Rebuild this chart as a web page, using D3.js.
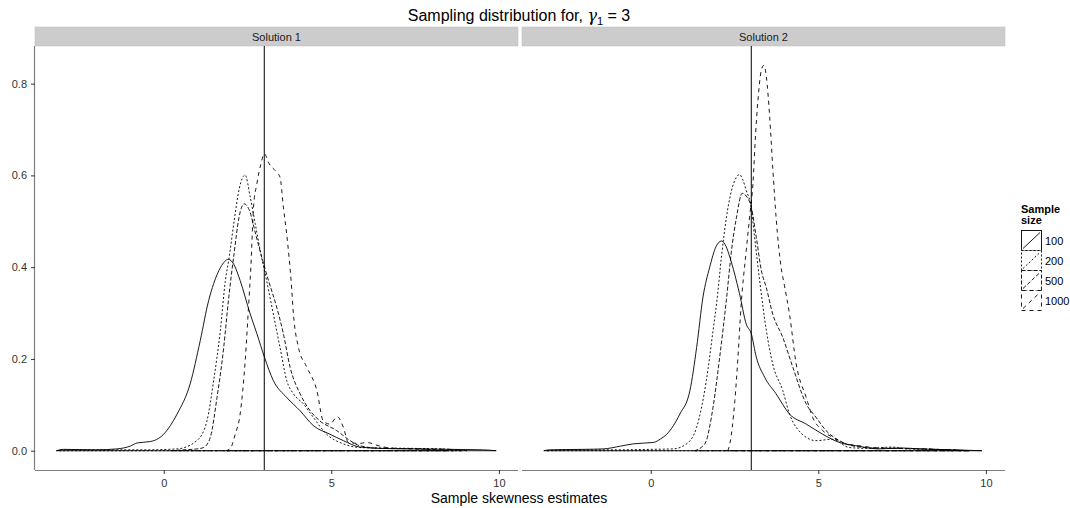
<!DOCTYPE html>
<html>
<head>
<meta charset="utf-8">
<script src="https://cdn.jsdelivr.net/npm/d3@7"></script>
<style>
  body { margin: 0; background: #fff; }
  text { font-family: "Liberation Sans", Arial, sans-serif; }
</style>
</head>
<body>
<div id="chart"></div>
<script>
// ---- data: [estimate, density] ----
const panels = ['Solution 1', 'Solution 2'];
const sampleSizes = ['100', '200', '500', '1000'];
const xTicks = [0, 5, 10];
const yTicks = [0, 0.2, 0.4, 0.6, 0.8];
const trueSkew = 3;

const sol1_n100 = [[-3.19,0],[-3.0,0.003],[-2.0,0.002],[-1.4,0.004],[-1.0,0.010],[-0.79,0.017],[-0.4,0.020],[-0.15,0.027],[0,0.036],[0.2,0.055],[0.4,0.080],[0.79,0.146],[1.09,0.240],[1.34,0.327],[1.49,0.364],[1.7,0.400],[1.93,0.417],[2.1,0.405],[2.28,0.371],[2.58,0.298],[2.78,0.255],[3.0,0.205],[3.27,0.153],[3.67,0.116],[4.07,0.087],[4.46,0.055],[4.96,0.036],[5.36,0.022],[5.85,0.008],[6.5,0.005],[7.5,0.004],[8.5,0.003],[9.5,0.002],[9.92,0]];
const sol1_n200 = [[-3.2,0],[-3.0,0.002],[-1.5,0.002],[-0.5,0.002],[0.4,0.004],[0.99,0.022],[1.29,0.065],[1.49,0.153],[1.69,0.262],[1.84,0.371],[1.95,0.42],[2.1,0.50],[2.25,0.57],[2.43,0.601],[2.58,0.553],[2.73,0.495],[2.88,0.436],[3.05,0.378],[3.27,0.298],[3.47,0.225],[3.67,0.153],[3.87,0.124],[4.17,0.102],[4.46,0.073],[4.86,0.036],[5.36,0.015],[5.85,0.007],[6.5,0.006],[7.5,0.005],[8.3,0.004],[8.9,0]];
const sol1_n500 = [[0.2,0],[0.6,0.002],[1.0,0.004],[1.19,0.007],[1.39,0.029],[1.59,0.116],[1.79,0.225],[1.93,0.327],[2.1,0.43],[2.25,0.51],[2.4,0.538],[2.55,0.525],[2.75,0.47],[2.95,0.415],[3.13,0.37],[3.37,0.313],[3.57,0.255],[3.77,0.182],[4.07,0.124],[4.37,0.087],[4.66,0.065],[5.16,0.044],[5.56,0.022],[5.85,0.011],[6.5,0.005],[7.5,0.004],[8.5,0]];
const sol1_n1000 = [[1.85,0],[1.99,0.005],[2.13,0.035],[2.28,0.080],[2.43,0.195],[2.53,0.313],[2.6,0.40],[2.68,0.531],[2.78,0.582],[2.9,0.625],[3.0,0.647],[3.15,0.625],[3.37,0.607],[3.47,0.596],[3.57,0.531],[3.69,0.458],[3.8,0.371],[3.87,0.298],[4.02,0.225],[4.27,0.182],[4.57,0.131],[4.76,0.065],[4.96,0.058],[5.18,0.074],[5.36,0.051],[5.51,0.018],[5.85,0.016],[6.05,0.018],[6.45,0.010],[6.75,0.006],[7.5,0.004],[8.5,0.003],[9.05,0]];

const sol2_n100 = [[-3.19,0],[-3.0,0.002],[-2.0,0.003],[-1.41,0.004],[-0.9,0.010],[-0.52,0.015],[0.08,0.018],[0.3,0.026],[0.48,0.036],[0.87,0.08],[1.17,0.131],[1.37,0.225],[1.56,0.335],[1.76,0.40],[1.95,0.445],[2.11,0.457],[2.25,0.445],[2.36,0.422],[2.65,0.342],[2.85,0.276],[3.0,0.255],[3.15,0.204],[3.40,0.16],[3.74,0.124],[4.14,0.08],[4.64,0.058],[5.13,0.036],[5.63,0.018],[6.12,0.011],[6.8,0.004],[7.5,0.006],[8.0,0.004],[9.0,0.002],[9.88,0]];
const sol2_n200 = [[-3.1,0],[-2.5,0.002],[-1.0,0.002],[0.0,0.003],[0.67,0.004],[1.07,0.015],[1.37,0.051],[1.66,0.153],[1.86,0.262],[1.98,0.33],[2.11,0.422],[2.26,0.509],[2.41,0.567],[2.55,0.595],[2.65,0.602],[2.75,0.59],[2.85,0.567],[3.0,0.53],[3.1,0.465],[3.25,0.371],[3.45,0.262],[3.64,0.189],[3.94,0.131],[4.14,0.080],[4.34,0.051],[4.93,0.022],[5.43,0.025],[5.92,0.007],[6.5,0.005],[7.2,0.008],[7.6,0.004],[8.5,0.003],[9.5,0]];
const sol2_n500 = [[1.3,0],[1.42,0.003],[1.52,0.008],[1.66,0.022],[1.81,0.073],[1.86,0.095],[2.06,0.205],[2.26,0.33],[2.41,0.436],[2.56,0.509],[2.73,0.561],[2.85,0.555],[3.0,0.531],[3.15,0.465],[3.30,0.393],[3.45,0.355],[3.64,0.298],[3.94,0.247],[4.24,0.182],[4.64,0.102],[4.93,0.073],[5.23,0.044],[5.63,0.022],[6.0,0.011],[6.6,0.006],[7.5,0.005],[8.5,0.003],[9.5,0]];
const sol2_n1000 = [[2.3,0],[2.36,0.015],[2.51,0.109],[2.60,0.2],[2.70,0.32],[2.85,0.436],[2.95,0.509],[3.05,0.582],[3.13,0.691],[3.20,0.764],[3.30,0.829],[3.38,0.840],[3.45,0.815],[3.55,0.727],[3.64,0.618],[3.74,0.509],[3.89,0.40],[3.99,0.36],[4.14,0.298],[4.34,0.189],[4.64,0.116],[4.83,0.073],[5.13,0.044],[5.43,0.029],[5.83,0.015],[6.2,0.011],[6.8,0.006],[7.5,0.005],[8.5,0.003],[9.5,0]];

const curves = [
  [sol1_n100, sol1_n200, sol1_n500, sol1_n1000],
  [sol2_n100, sol2_n200, sol2_n500, sol2_n1000]
];

// ---- layout ----
const W = 1070, H = 508;
const panelX = [[35, 518], [522, 1005]];
const stripTop = 27, plotTop = 46, plotBottom = 470;

const dashes = d3.scaleOrdinal().domain(sampleSizes).range(['none', '2,2', '4,2', '4,4']);

const svg = d3.select('#chart').append('svg')
  .attr('width', W)
  .attr('height', H);

const y = d3.scaleLinear().domain([-0.042, 0.882]).range([plotBottom, plotTop]);

// title
const title = svg.append('text')
  .attr('x', 519)
  .attr('y', 21)
  .attr('text-anchor', 'middle')
  .style('font-size', '16px')
  .attr('fill', '#000');
title.append('tspan').text('Sampling distribution for, ');
title.append('tspan').style('font-family', '"DejaVu Serif", serif').style('font-style', 'italic').text('γ');
title.append('tspan').style('font-size', '11px').attr('dy', 4).text('1');
title.append('tspan').attr('dy', -4).text(' = 3');

panels.forEach((name, p) => {
  const [x0, x1] = panelX[p];
  const x = d3.scaleLinear().domain([-3.84, 10.57]).range([x0, x1]);

  /* ----------strip------------*/
  svg.append('rect')
    .attr('x', x0).attr('y', stripTop)
    .attr('width', x1 - x0).attr('height', plotTop - stripTop)
    .attr('fill', '#cccccc')
    .attr('stroke', '#bdbdbd')
    .attr('stroke-width', 0.5);
  svg.append('text')
    .attr('x', (x0 + x1) / 2)
    .attr('y', plotTop - 5)
    .attr('text-anchor', 'middle')
    .style('font-size', '11px')
    .attr('fill', '#1a1a1a')
    .text(name);

  /* ----------x axis------------*/
  const xAxis = svg.append('g')
    .attr('transform', `translate(0,${plotBottom})`)
    .call(d3.axisBottom(x).tickValues(xTicks).tickSize(4).tickPadding(5).tickFormat(d3.format('d')));
  xAxis.select('.domain').attr('stroke', '#7f7f7f').attr('stroke-width', 1.2).attr('d', `M${x0},0.5H${x1}`);
  xAxis.selectAll('.tick line').attr('stroke', '#333');
  xAxis.selectAll('.tick text').style('font-size', '11px').attr('fill', '#333').style('font-family', '"Liberation Sans", Arial, sans-serif');

  if (p === 0) {
    const yAxis = svg.append('g')
      .attr('transform', `translate(${x0},0)`)
      .call(d3.axisLeft(y).tickValues(yTicks).tickSize(4).tickPadding(4).tickFormat(d3.format('.1f')));
    yAxis.select('.domain').attr('stroke', '#7f7f7f').attr('stroke-width', 1.2).attr('d', `M-0.5,${plotTop}V${plotBottom}`);
    yAxis.selectAll('.tick line').attr('stroke', '#333');
    yAxis.selectAll('.tick text').style('font-size', '11px').attr('fill', '#333').style('font-family', '"Liberation Sans", Arial, sans-serif');
  }

  /* ----------densities (outline incl. baseline)------------*/
  const area = d3.area()
    .x(d => x(d[0]))
    .y0(y(0))
    .y1(d => y(d[1]))
    .curve(d3.curveMonotoneX);

  const g = svg.append('g');
  g.selectAll('path')
    .data(curves[p])
    .enter().append('path')
    .attr('d', d => area(d))
    .attr('fill', 'none')
    .attr('stroke', '#000')
    .attr('stroke-width', 0.9)
    .attr('stroke-dasharray', (d, i) => dashes(sampleSizes[i]));

  /* ----------true value------------*/
  svg.append('line')
    .attr('x1', x(trueSkew)).attr('x2', x(trueSkew))
    .attr('y1', plotTop).attr('y2', plotBottom)
    .attr('stroke', '#000')
    .attr('stroke-width', 1);
});

// x axis title
svg.append('text')
  .attr('x', 519)
  .attr('y', 503)
  .attr('text-anchor', 'middle')
  .style('font-size', '14px')
  .attr('fill', '#000')
  .text('Sample skewness estimates');

// legend
const legend = svg.append('g').attr('transform', 'translate(1021,0)');
legend.append('text').attr('x', 0).attr('y', 213).style('font-size', '11px').style('font-weight', 'bold').text('Sample');
legend.append('text').attr('x', 0).attr('y', 224).style('font-size', '11px').style('font-weight', 'bold').text('size');

const keyH = 20, keyTop = 230;
const keys = legend.selectAll('g.key')
  .data(sampleSizes)
  .enter().append('g')
  .attr('class', 'key')
  .attr('transform', (d, i) => `translate(0,${keyTop + i * keyH})`);
keys.append('rect')
  .attr('x', 0.5).attr('y', 0.5)
  .attr('width', 20).attr('height', keyH)
  .attr('fill', '#fff')
  .attr('stroke', '#000')
  .attr('stroke-width', 0.9)
  .attr('stroke-dasharray', d => dashes(d));
keys.append('line')
  .attr('x1', 2).attr('y1', keyH - 1.5)
  .attr('x2', 19).attr('y2', 2.5)
  .attr('stroke', '#000')
  .attr('stroke-width', 0.9)
  .attr('stroke-dasharray', d => dashes(d));
keys.append('text')
  .attr('x', 24)
  .attr('y', keyH / 2 + 4.5)
  .style('font-size', '11px')
  .attr('fill', '#000')
  .text(d => d);
</script>
</body>
</html>
